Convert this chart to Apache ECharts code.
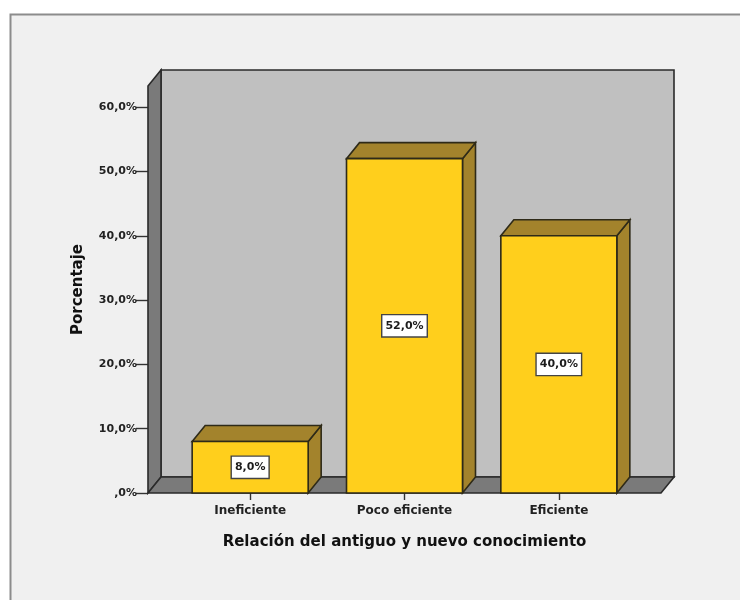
<!DOCTYPE html>
<html><head><meta charset="utf-8">
<style>html,body{margin:0;padding:0;background:#fff}#c{width:740px;height:600px}canvas{filter:blur(0.7px)}</style>
<script src="https://cdn.jsdelivr.net/npm/echarts@6/dist/echarts.min.js"></script>
</head><body><div id="c"></div>
<script>
const categories = ['Ineficiente', 'Poco eficiente', 'Eficiente'];
const values = [8, 52, 40];
const valueLabels = ['8,0%', '52,0%', '40,0%'];
const yTicks = [0, 10, 20, 30, 40, 50, 60];
const yTickLabels = [',0%', '10,0%', '20,0%', '30,0%', '40,0%', '50,0%', '60,0%'];

const dx = 13, dy = -16, side = 25, barW = 116;
const edge = '#2e2a18', wallEdge = '#2a2a2a';
const font = 'DejaVu Sans';

function poly(pts, fill, stroke) {
  return { type: 'polygon', shape: { points: pts }, style: { fill, stroke, lineWidth: 1.6 } };
}
function renderWalls(params) {
  const c = params.coordSys;
  const l = c.x - side, r = c.x + c.width + side, t = c.y, b = c.y + c.height;
  return { type: 'group', silent: true, children: [
    poly([[l + dx, t + dy], [r + dx, t + dy], [r + dx, b + dy], [l + dx, b + dy]], '#c0c0c0', wallEdge),
    poly([[l, t], [l + dx, t + dy], [l + dx, b + dy], [l, b]], '#7a7a7a', wallEdge),
    poly([[l, b], [l + dx, b + dy], [r + dx, b + dy], [r, b]], '#7a7a7a', wallEdge)
  ]};
}
function renderBar(params, api) {
  const i = api.value(0), v = api.value(1);
  const top = api.coord([i, v]), base = api.coord([i, 0]);
  const x0 = top[0] - barW / 2, x1 = top[0] + barW / 2, yt = top[1], yb = base[1];
  return { type: 'group', children: [
    poly([[x1, yt], [x1 + dx, yt + dy], [x1 + dx, yb + dy], [x1, yb]], '#a3832c', edge),
    poly([[x0, yt], [x0 + dx, yt + dy], [x1 + dx, yt + dy], [x1, yt]], '#a3832c', edge),
    poly([[x0, yt], [x1, yt], [x1, yb], [x0, yb]], '#ffcf1c', edge),
    { type: 'text', x: top[0], y: (yt + yb) / 2, style: {
      text: valueLabels[params.dataIndex], align: 'center', verticalAlign: 'middle',
      font: 'bold 11px "' + font + '"', fill: '#1c1c1c', backgroundColor: '#fff',
      borderColor: '#444', borderWidth: 1.4, padding: [5, 3, 5, 3] } }
  ]};
}

const chart = echarts.init(document.getElementById('c'), null, { renderer: 'canvas' });
chart.setOption({
  animation: false,
  backgroundColor: '#ffffff',
  graphic: [{ type: 'rect', z: -10, silent: true,
    shape: { x: 10.5, y: 14.5, width: 760, height: 620 },
    style: { fill: '#f0f0f0', stroke: '#8c8c8c', lineWidth: 2 } }],
  grid: { left: 173, right: 104, top: 86, bottom: 107 },
  xAxis: {
    type: 'category', data: categories,
    name: 'Relación del antiguo y nuevo conocimiento',
    nameLocation: 'middle', nameGap: 42,
    nameTextStyle: { fontFamily: font, fontWeight: 'bold', fontSize: 15, color: '#111' },
    axisLine: { show: false },
    axisTick: { show: true, alignWithLabel: true, length: 7, lineStyle: { color: '#333', width: 1.4 } },
    axisLabel: { fontFamily: font, fontWeight: 'bold', fontSize: 12, color: '#222', margin: 12 }
  },
  yAxis: {
    type: 'value', min: 0, max: 63.3, offset: 25,
    name: 'Porcentaje', nameLocation: 'middle', nameGap: 62,
    nameTextStyle: { fontFamily: font, fontWeight: 'bold', fontSize: 15, color: '#111' },
    splitLine: { show: false }, axisLine: { show: false },
    axisTick: { show: true, customValues: yTicks, length: 12, lineStyle: { color: '#333', width: 1.4 } },
    axisLabel: { customValues: yTicks, margin: 11, fontFamily: font, fontWeight: 'bold', fontSize: 11, color: '#222',
      formatter: v => yTickLabels[yTicks.indexOf(v)] }
  },
  series: [
    { type: 'custom', coordinateSystem: 'cartesian2d', clip: false, z: 1, silent: true,
      renderItem: renderWalls, data: [[0, 0]] },
    { type: 'custom', coordinateSystem: 'cartesian2d', clip: false, z: 2,
      renderItem: renderBar, encode: { x: 0, y: 1 },
      data: categories.map((c, i) => [i, values[i]]) }
  ]
});
</script></body></html>
